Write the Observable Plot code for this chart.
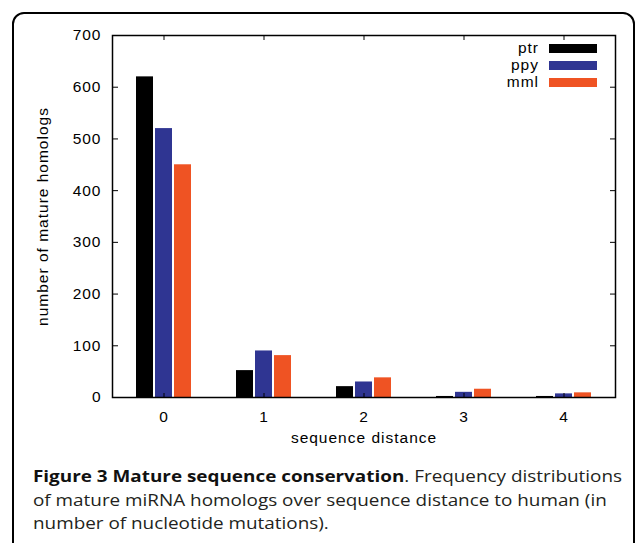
<!DOCTYPE html>
<html><head><meta charset="utf-8">
<script src="https://cdn.jsdelivr.net/npm/d3@7"></script>
<script src="https://cdn.jsdelivr.net/npm/@observablehq/plot@0.6"></script>
<style>
body{margin:0;background:#fff;width:636px;height:543px;overflow:hidden;position:relative;font-family:"Liberation Sans",Arial,sans-serif}
#border{position:absolute;left:12px;top:12px;width:619px;height:600px;border:2px solid #000;border-radius:12px;box-sizing:content-box}
#chart{position:absolute;left:0;top:0}
.lg{position:absolute;font-size:15.5px;letter-spacing:1px;color:#000;}
.sw{position:absolute;width:48px;height:9px}
#caption{position:absolute;left:33px;top:465px;font-family:"Open Sans",sans-serif;font-size:16px;line-height:23.5px;color:#231f20;white-space:nowrap;transform:scaleX(1.18);transform-origin:0 0}
#caption b{font-weight:700;color:#111}
</style></head>
<body>
<div id="border"></div>
<div id="chart"></div>
<div id="legend"></div>
<div id="caption"><b>Figure 3 Mature sequence conservation</b>. Frequency distributions<br>of mature miRNA homologs over sequence distance to human (in<br>number of nucleotide mutations).</div>
<script>
const distances = [0, 1, 2, 3, 4];
const series = ["ptr", "ppy", "mml"];
const colors = ["#000000", "#2f3592", "#ef5323"];
const ptr = [620, 52, 21, 2, 2];
const ppy = [520, 90, 30, 10, 7];
const mml = [450, 81, 38, 16, 9];
const yTicks = [0, 100, 200, 300, 400, 500, 600, 700];
const xLabel = "sequence distance";
const yLabel = "number of mature homologs";

const values = {ptr, ppy, mml};
const rows = series.flatMap(s => distances.map((d, j) => ({distance: d, series: s, count: values[s][j]})));

const chart = Plot.plot({
  width: 636, height: 450,
  marginLeft: 112, marginRight: 21, marginTop: 35, marginBottom: 53,
  style: {fontFamily: "'Liberation Sans', Arial, sans-serif", fontSize: "15.5px", letterSpacing: "1px", color: "#000", background: "transparent"},
  x: {type: "band", domain: distances, paddingInner: 0.831, paddingOuter: 0.4155},
  y: {domain: [0, 700]},
  color: {domain: series, range: colors},
  marks: [
    ...series.map((s, i) => Plot.barY(rows.filter(r => r.series === s), {x: "distance", y: "count", fill: "series", dx: (i - 1) * 19})),
    Plot.frame({stroke: "#000", strokeWidth: 1.5}),
    Plot.axisY({ticks: yTicks, tickSize: 0, tickPadding: 11, label: null}),
    Plot.axisY({ticks: yTicks, anchor: "right", frameAnchor: "left", tickSize: 5, fill: "none"}),
    Plot.axisY({ticks: yTicks, anchor: "left", frameAnchor: "right", tickSize: 5, fill: "none"}),
    Plot.axisX({tickSize: 0, tickPadding: 13, label: null}),
    Plot.axisX({anchor: "bottom", frameAnchor: "top", tickSize: 5, fill: "none"}),
    Plot.axisX({anchor: "top", frameAnchor: "bottom", tickSize: 5, fill: "none"}),
    Plot.text([xLabel], {frameAnchor: "bottom", dy: 45, fontSize: 15.5}),
    Plot.text([yLabel], {frameAnchor: "left", textAnchor: "middle", rotate: -90, dx: -69, fontSize: 15.5})
  ]
});
document.getElementById("chart").append(chart);

const legend = document.getElementById("legend");
series.forEach((s, i) => {
  const cy = 48 + i * 17;
  const t = document.createElement("div");
  t.className = "lg"; t.textContent = s;
  t.style.right = (636 - 539) + "px"; t.style.top = (cy - 9.5) + "px";
  legend.append(t);
  const sw = document.createElement("div");
  sw.className = "sw"; sw.style.background = colors[i];
  sw.style.left = "549px"; sw.style.top = (cy - 4.5) + "px";
  legend.append(sw);
});
</script>
</body></html>
